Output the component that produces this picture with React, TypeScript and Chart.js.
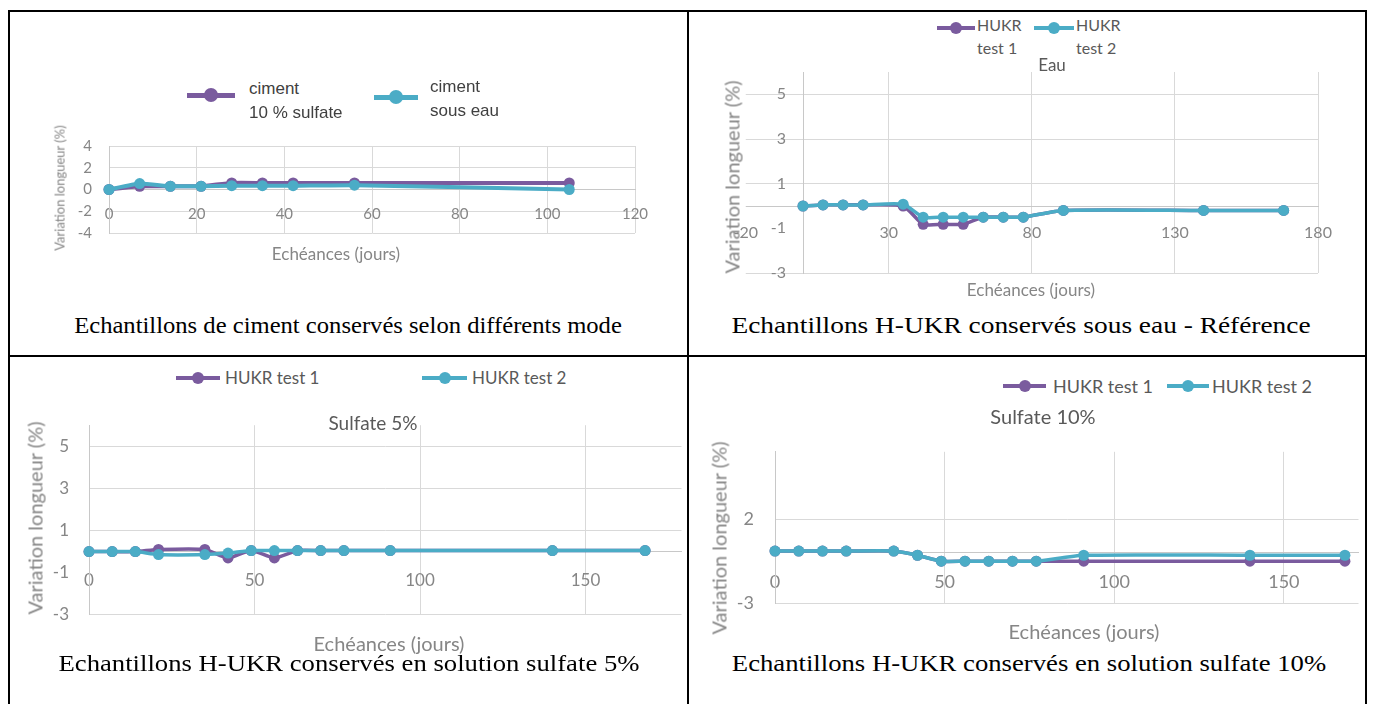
import React, { useEffect, useRef } from "react";
import { Chart, registerables } from "chart.js";

Chart.register(...registerables);

// ---------- data ----------
// Panel 1 : ciment
const cimentDays = [0, 7, 14, 21, 28, 35, 42, 56, 105];
const cimentSulfate10 = [0, 0.3, 0.3, 0.3, 0.6, 0.6, 0.6, 0.6, 0.6];
const cimentSousEau = [0, 0.55, 0.3, 0.3, 0.35, 0.35, 0.35, 0.4, 0];
const cimentXTicks = [0, 20, 40, 60, 80, 100, 120];
const cimentYTicks = [-4, -2, 0, 2, 4];

// Panels 2-4 : H-UKR
const hukrDays = [0, 7, 14, 21, 35, 42, 49, 56, 63, 70, 77, 91, 140, 168];

const eauTest1 = [0, 0.05, 0.05, 0.05, 0, -0.82, -0.82, -0.82, -0.5, -0.5, -0.5, -0.2, -0.2, -0.2];
const eauTest2 = [0, 0.05, 0.05, 0.05, 0.08, -0.5, -0.5, -0.5, -0.5, -0.5, -0.5, -0.2, -0.2, -0.2];
const eauXTicks = [-20, 30, 80, 130, 180];
const eauYTicks = [-3, -1, 1, 3, 5];

const s5Test1 = [0, 0, 0, 0.1, 0.1, -0.3, 0.05, -0.3, 0.05, 0.05, 0.05, 0.05, 0.05, 0.05];
const s5Test2 = [0, 0, 0, -0.14, -0.14, -0.07, 0.05, 0.05, 0.05, 0.05, 0.05, 0.05, 0.05, 0.05];
const s5XTicks = [0, 50, 100, 150];
const s5YTicks = [-3, -1, 1, 3, 5];

const s10Test1 = [0.1, 0.1, 0.1, 0.1, 0.1, -0.15, -0.5, -0.5, -0.5, -0.5, -0.5, -0.5, -0.5, -0.5];
const s10Test2 = [0.1, 0.1, 0.1, 0.1, 0.1, -0.15, -0.5, -0.5, -0.5, -0.5, -0.5, -0.15, -0.15, -0.15];
const s10XTicks = [0, 50, 100, 150];
const s10YTicks = [-3, 2];

// ---------- styles ----------
const PURPLE = "#7a5b9e";
const CYAN = "#4bacc6";
const GRID = "#d9d9d9";
const AXIS_LINE = "#c8c8c8";
const AXIS_TEXT = "#868686";
const LEGEND_TEXT = "#595959";
const FONT = "Lato";
const CLEAR = "rgba(0,0,0,0)";

type Series = { label: string; data: number[]; color: string };
type Spec = {
  box: [number, number, number, number]; // x, y, w, h of canvas on page
  area: [number, number, number, number]; // l, t, r, b of plot area on page
  xRange: [number, number];
  yRange: [number, number];
  xTicks: number[];
  yTicks: number[];
  yExtraGrid?: number[];
  gridFrom?: number; // horizontal grid lines extend left to this x value
  hideXGrid?: number[];
  hideYGrid?: number[];
  days: number[];
  series: Series[];
  tickSize: number;
  gapX: number;
  gapY: number;
  lineWidth: number;
  pointRadius: number;
  tension: number;
};

function ChartCanvas({ spec }: { spec: Spec }) {
  const ref = useRef<HTMLCanvasElement>(null);
  const [bx, by, bw, bh] = spec.box;
  useEffect(() => {
    const [l, t, r, b] = spec.area;
    const [xMin, xMax] = spec.xRange;
    const areaW = r - l;
    const ext = spec.gridFrom !== undefined ? ((xMin - spec.gridFrom) / (xMax - xMin)) * areaW : 0;
    const yAxisWidth = l - bx;
    const yGridVals = [...spec.yTicks, ...(spec.yExtraGrid || [])].sort((a, c) => a - c);
    const hideX = spec.hideXGrid || [];
    const hideY = spec.hideYGrid || [];
    const yGridColor = (c: any) =>
      hideY.includes(c.tick?.value) ? CLEAR : c.tick?.value === 0 ? AXIS_LINE : GRID;
    const n = spec.series.length;
    const chart = new Chart(ref.current as HTMLCanvasElement, {
      type: "line",
      data: {
        datasets: spec.series.map((s, k) => ({
          label: s.label,
          data: spec.days.map((d, i) => ({ x: d, y: s.data[i] })),
          borderColor: s.color,
          backgroundColor: s.color,
          pointBackgroundColor: s.color,
          pointBorderColor: s.color,
          borderWidth: spec.lineWidth,
          pointRadius: spec.pointRadius,
          pointHoverRadius: spec.pointRadius,
          pointBorderWidth: 0,
          tension: spec.tension,
          order: n - k, // later series drawn on top
          clip: false as any,
        })),
      },
      options: {
        responsive: false,
        animation: false,
        devicePixelRatio: 1,
        events: [],
        layout: {
          padding: { left: 0, top: t - by, right: bx + bw - r, bottom: by + bh - b },
        },
        plugins: {
          legend: { display: false },
          title: { display: false },
          tooltip: { enabled: false },
        },
        scales: {
          x: {
            type: "linear",
            position: { y: 0 } as any,
            min: xMin,
            max: xMax,
            afterBuildTicks: (sc: any) => {
              sc.ticks = spec.xTicks.map((v) => ({ value: v }));
            },
            ticks: {
              autoSkip: false,
              maxRotation: 0,
              padding: spec.gapX,
              color: AXIS_TEXT,
              font: { family: FONT, size: spec.tickSize },
              callback: (v: any) => String(v),
            },
            grid: {
              drawTicks: false,
              color: (c: any) =>
                hideX.includes(c.tick?.value) ? CLEAR : c.tick?.value === 0 ? AXIS_LINE : GRID,
            },
            border: { color: AXIS_LINE },
          },
          y: {
            type: "linear",
            position: "left",
            min: spec.yRange[0],
            max: spec.yRange[1],
            afterFit: (sc: any) => {
              sc.width = yAxisWidth;
            },
            afterBuildTicks: (sc: any) => {
              sc.ticks = yGridVals.map((v) => ({ value: v }));
            },
            ticks: {
              autoSkip: false,
              padding: spec.gapY - ext,
              color: AXIS_TEXT,
              font: { family: FONT, size: spec.tickSize },
              callback: (v: any) => (spec.yTicks.includes(Number(v)) ? String(v) : ""),
            },
            grid: {
              drawTicks: ext > 0,
              tickLength: ext,
              color: yGridColor,
              tickColor: yGridColor,
            },
            border: { color: AXIS_LINE },
          },
        },
      } as any,
    });
    return () => chart.destroy();
  }, []);
  return (
    <canvas
      ref={ref}
      width={bw}
      height={bh}
      style={{ position: "absolute", left: bx, top: by, width: bw, height: bh }}
    />
  );
}

// ---------- HTML helpers ----------
function CText(props: {
  x: number;
  y: number;
  size: number;
  color: string;
  family: string;
  rotate?: boolean;
  sx?: number;
  children: React.ReactNode;
}) {
  const { x, y, size, color, family, rotate, sx, children } = props;
  return (
    <div
      style={{
        position: "absolute",
        left: x,
        top: y,
        transform: `translate(-50%, -50%)${rotate ? " rotate(-90deg)" : ""}${sx ? ` scaleX(${sx})` : ""}`,
        whiteSpace: "nowrap",
        fontFamily: family,
        fontSize: size,
        lineHeight: 1.15,
        color,
      }}
    >
      {children}
    </div>
  );
}

function LText(props: { x: number; y: number; size: number; color: string; family: string; children: React.ReactNode }) {
  const { x, y, size, color, family, children } = props;
  return (
    <div
      style={{
        position: "absolute",
        left: x,
        top: y,
        transform: "translateY(-50%)",
        whiteSpace: "nowrap",
        fontFamily: family,
        fontSize: size,
        lineHeight: 1.15,
        color,
      }}
    >
      {children}
    </div>
  );
}

function LegendMark({ x1, x2, y, color, w, r }: { x1: number; x2: number; y: number; color: string; w: number; r: number }) {
  return (
    <>
      <div style={{ position: "absolute", left: x1, top: y - w / 2, width: x2 - x1, height: w, background: color }} />
      <div
        style={{
          position: "absolute",
          left: (x1 + x2) / 2 - r,
          top: y - r,
          width: 2 * r,
          height: 2 * r,
          borderRadius: "50%",
          background: color,
        }}
      />
    </>
  );
}

function Line({ x, y, w, h }: { x: number; y: number; w: number; h: number }) {
  return <div style={{ position: "absolute", left: x, top: y, width: w, height: h, background: "#000" }} />;
}

// ---------- chart specs ----------
const spec1: Spec = {
  box: [10, 120, 670, 140],
  area: [109, 145, 635, 233],
  xRange: [0, 120],
  yRange: [-4, 4],
  xTicks: cimentXTicks,
  yTicks: cimentYTicks,
  days: cimentDays,
  series: [
    { label: "ciment 10 % sulfate", data: cimentSulfate10, color: PURPLE },
    { label: "ciment sous eau", data: cimentSousEau, color: CYAN },
  ],
  tickSize: 15,
  gapX: 16,
  gapY: 17,
  lineWidth: 4,
  pointRadius: 5.5,
  tension: 0.15,
};

const spec2: Spec = {
  box: [690, 60, 674, 230],
  area: [803, 72, 1318, 273],
  xRange: [0, 180],
  yRange: [-3, 6],
  xTicks: eauXTicks,
  yTicks: eauYTicks,
  yExtraGrid: [0],
  gridFrom: -20,
  hideXGrid: [-20],
  hideYGrid: [-1],
  days: hukrDays,
  series: [
    { label: "HUKR test 1", data: eauTest1, color: PURPLE },
    { label: "HUKR test 2", data: eauTest2, color: CYAN },
  ],
  tickSize: 16,
  gapX: 17,
  gapY: 17,
  lineWidth: 3.5,
  pointRadius: 5.5,
  tension: 0.2,
};

const spec3: Spec = {
  box: [10, 395, 677, 250],
  area: [89, 409, 687, 627],
  xRange: [0, 179],
  yRange: [-3, 6],
  xTicks: s5XTicks,
  yTicks: s5YTicks,
  hideYGrid: [-1],
  days: hukrDays,
  series: [
    { label: "HUKR test 1", data: s5Test1, color: PURPLE },
    { label: "HUKR test 2", data: s5Test2, color: CYAN },
  ],
  tickSize: 17,
  gapX: 19,
  gapY: 20,
  lineWidth: 3.5,
  pointRadius: 5.5,
  tension: 0.2,
};

const spec4: Spec = {
  box: [690, 420, 674, 215],
  area: [775, 433, 1364, 613],
  xRange: [0, 172],
  yRange: [-3, 6],
  xTicks: s10XTicks,
  yTicks: s10YTicks,
  days: hukrDays,
  series: [
    { label: "HUKR test 1", data: s10Test1, color: PURPLE },
    { label: "HUKR test 2", data: s10Test2, color: CYAN },
  ],
  tickSize: 18,
  gapX: 19,
  gapY: 21,
  lineWidth: 3.5,
  pointRadius: 5.5,
  tension: 0.2,
};

const SERIF = "'Liberation Serif', 'Times New Roman', serif";
const CAPTION = 23;
const LSANS = "'Liberation Sans', Arial, sans-serif";

export default function App() {
  return (
    <div
      style={{
        position: "fixed",
        left: 0,
        top: 0,
        width: 1375,
        height: 704,
        overflow: "hidden",
        background: "#fff",
      }}
    >
      {/* table borders */}
      <Line x={8} y={10} w={1359} h={2} />
      <Line x={8} y={10} w={2} h={694} />
      <Line x={1365} y={10} w={2} h={694} />
      <Line x={687} y={10} w={2} h={694} />
      <Line x={8} y={355} w={1359} h={2} />

      {/* ---------- panel 1 ---------- */}
      <ChartCanvas spec={spec1} />
      <LegendMark x1={187} x2={235} y={95} color={PURPLE} w={5} r={7} />
      <LText x={249} y={89} size={17} color="#404040" family={LSANS}>ciment</LText>
      <LText x={249} y={113} size={17} color="#404040" family={LSANS}>10 % sulfate</LText>
      <LegendMark x1={374} x2={418} y={97} color={CYAN} w={5} r={7} />
      <LText x={430} y={87} size={17} color="#404040" family={LSANS}>ciment</LText>
      <LText x={430} y={111} size={17} color="#404040" family={LSANS}>sous eau</LText>
      <CText x={60} y={188} size={13} color={AXIS_TEXT} family={FONT} rotate>Variation longueur (%)</CText>
      <CText x={336} y={254} size={17} color={AXIS_TEXT} family={FONT}>Echéances (jours)</CText>
      <CText x={348} y={326} size={CAPTION} sx={1.07} color="#000" family={SERIF}>Echantillons de ciment conservés selon différents mode</CText>

      {/* ---------- panel 2 ---------- */}
      <ChartCanvas spec={spec2} />
      <LegendMark x1={937} x2={975} y={28} color={PURPLE} w={4} r={6} />
      <LText x={977} y={25} size={16} color={LEGEND_TEXT} family={FONT}>HUKR</LText>
      <LText x={977} y={48} size={16} color={LEGEND_TEXT} family={FONT}>test 1</LText>
      <LegendMark x1={1034} x2={1074} y={28} color={CYAN} w={4} r={6} />
      <LText x={1076} y={25} size={16} color={LEGEND_TEXT} family={FONT}>HUKR</LText>
      <LText x={1076} y={48} size={16} color={LEGEND_TEXT} family={FONT}>test 2</LText>
      <CText x={1052} y={65} size={17} color={LEGEND_TEXT} family={FONT}>Eau</CText>
      <CText x={732} y={177} size={20} color={AXIS_TEXT} family={FONT} rotate>Variation longueur (%)</CText>
      <CText x={1031} y={290} size={17} color={AXIS_TEXT} family={FONT}>Echéances (jours)</CText>
      <CText x={1021} y={326} size={CAPTION} sx={1.19} color="#000" family={SERIF}>Echantillons H-UKR conservés sous eau - Référence</CText>

      {/* ---------- panel 3 ---------- */}
      <ChartCanvas spec={spec3} />
      <LegendMark x1={176} x2={220} y={378} color={PURPLE} w={4} r={6} />
      <LText x={225} y={378} size={17} color={LEGEND_TEXT} family={FONT}>HUKR test 1</LText>
      <LegendMark x1={422} x2={467} y={378} color={CYAN} w={4} r={6} />
      <LText x={472} y={378} size={17} color={LEGEND_TEXT} family={FONT}>HUKR test 2</LText>
      <CText x={373} y={423} size={19} color={LEGEND_TEXT} family={FONT}>Sulfate 5%</CText>
      <CText x={35} y={518} size={20} color={AXIS_TEXT} family={FONT} rotate>Variation longueur (%)</CText>
      <CText x={389} y={643} size={20} color={AXIS_TEXT} family={FONT}>Echéances (jours)</CText>
      <CText x={349} y={664} size={CAPTION} sx={1.16} color="#000" family={SERIF}>Echantillons H-UKR conservés en solution sulfate 5%</CText>

      {/* ---------- panel 4 ---------- */}
      <ChartCanvas spec={spec4} />
      <LegendMark x1={1003} x2={1046} y={386} color={PURPLE} w={4} r={6} />
      <LText x={1053} y={386} size={18} color={LEGEND_TEXT} family={FONT}>HUKR test 1</LText>
      <LegendMark x1={1167} x2={1209} y={386} color={CYAN} w={4} r={6} />
      <LText x={1212} y={386} size={18} color={LEGEND_TEXT} family={FONT}>HUKR test 2</LText>
      <CText x={1043} y={416} size={20} color={LEGEND_TEXT} family={FONT}>Sulfate 10%</CText>
      <CText x={719} y={538} size={20} color={AXIS_TEXT} family={FONT} rotate>Variation longueur (%)</CText>
      <CText x={1084} y={631} size={20} color={AXIS_TEXT} family={FONT}>Echéances (jours)</CText>
      <CText x={1029} y={664} size={CAPTION} sx={1.16} color="#000" family={SERIF}>Echantillons H-UKR conservés en solution sulfate 10%</CText>
    </div>
  );
}
